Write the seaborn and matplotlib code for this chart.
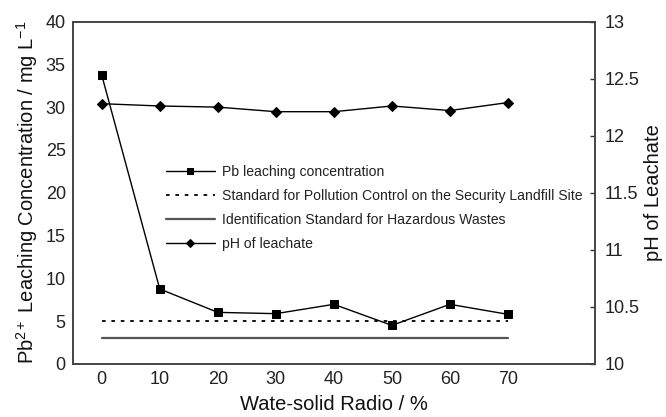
import matplotlib
matplotlib.use("Agg")
import matplotlib.pyplot as plt
import seaborn as sns
import pandas as pd
from matplotlib.ticker import MultipleLocator, FixedLocator

# ---- data ----
ratio = [0, 10, 20, 30, 40, 50, 60, 70]
pb_conc = [33.75, 8.76, 6.03, 5.88, 6.97, 4.51, 6.97, 5.80]
ph_vals = [12.28, 12.26, 12.25, 12.21, 12.21, 12.26, 12.22, 12.29]
std_x = [0, 70]
landfill_std = [5, 5]
hazard_std = [3, 3]
labels = ["Pb leaching concentration",
          "Standard for Pollution Control on the Security Landfill Site",
          "Identification Standard for Hazardous Wastes",
          "pH of leachate"]

sns.set_style("white")
plt.rcParams['font.family'] = ['Liberation Sans', 'DejaVu Sans']
plt.rcParams['mathtext.fontset'] = 'custom'
plt.rcParams['mathtext.rm'] = 'Liberation Sans'
plt.rcParams['mathtext.it'] = 'Liberation Sans:italic'

fig = plt.figure(figsize=(6.66, 4.17), dpi=100)
ax = fig.add_axes([72.7/666, (417-364)/417, (595-72.7)/666, (364-21.5)/417])
ax2 = ax.twinx()

df = pd.DataFrame({"ratio": ratio, "pb": pb_conc, "ph": ph_vals})
dstd = pd.DataFrame({"x": std_x, "land": landfill_std, "haz": hazard_std})

sns.lineplot(data=df, x="ratio", y="pb", ax=ax, color="black", lw=1.0,
             marker="s", markersize=6, markeredgecolor="black", label=labels[0], legend=False)
sns.lineplot(data=dstd, x="x", y="land", ax=ax, color="black", lw=1.3,
             linestyle=(0, (2, 3.2)), label=labels[1], legend=False)
sns.lineplot(data=dstd, x="x", y="haz", ax=ax, color="#555555", lw=1.6,
             label=labels[2], legend=False)
sns.lineplot(data=df, x="ratio", y="ph", ax=ax2, color="black", lw=1.0,
             marker="D", markersize=5.5, markeredgecolor="black", label=labels[3], legend=False)

ax.set_xlim(-5, 85)
ax.set_ylim(0, 40)
ax2.set_ylim(10, 13)

ax.xaxis.set_major_locator(FixedLocator(ratio))
ax.xaxis.set_minor_locator(FixedLocator([5, 15, 25, 35, 45, 55, 65, 75]))
ax.yaxis.set_major_locator(MultipleLocator(5))
ax2.set_yticks([10, 10.5, 11, 11.5, 12, 12.5, 13])
ax2.set_yticklabels(["10", "10.5", "11", "11.5", "12", "12.5", "13"])

ax.tick_params(axis='x', which='major', length=0, pad=5, labelsize=13, labelcolor='#222222')
ax.tick_params(axis='x', which='minor', length=3.5, width=1, direction='in', color='#333333')
ax.tick_params(axis='y', which='major', length=0, pad=5, labelsize=13, labelcolor='#222222')
ax2.tick_params(axis='y', which='major', length=3.5, width=1, direction='in', pad=7,
                labelsize=13, labelcolor='#222222', color='#333333')

for a in (ax, ax2):
    for s in a.spines.values():
        s.set_visible(True)
        s.set_color('#444444')
        s.set_linewidth(1.2)

ax.set_xlabel("Wate-solid Radio / %", fontsize=14.5, color='#111111', labelpad=5)
ax.set_ylabel(r"Pb$^{2+}$ Leaching Concentration / mg L$^{-1}$", fontsize=14.5,
              color='#111111', labelpad=4)
ax2.set_ylabel("pH of Leachate", fontsize=14.5, color='#111111', labelpad=3)

h1, l1 = ax.get_legend_handles_labels()
h2, l2 = ax2.get_legend_handles_labels()
leg = ax.legend(h1 + h2, l1 + l2, loc='upper left', bbox_to_anchor=(165.7/666, (417-165)/417),
                bbox_transform=fig.transFigure, frameon=False, fontsize=10.1,
                handlelength=3.5, handletextpad=0.48, labelspacing=0.72, borderpad=0,
                borderaxespad=0, markerscale=0.8)
for t in leg.get_texts():
    t.set_color('#222222')

fig.savefig("out.png", dpi=100)
